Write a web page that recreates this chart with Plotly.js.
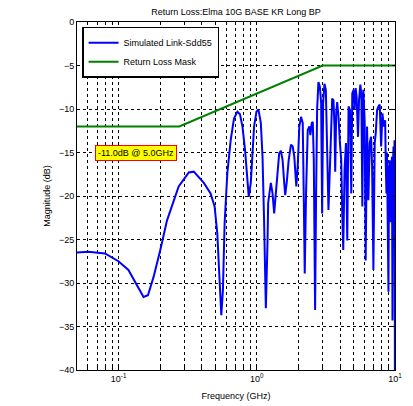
<!DOCTYPE html>
<html>
<head>
<meta charset="utf-8">
<script src="https://cdn.plot.ly/plotly-3.0.1.min.js"></script>
<style>html,body{margin:0;padding:0;background:#fff;}#chart{width:413px;height:406px;}</style>
</head>
<body>
<div id="chart"></div>
<script>
// Simulated link Sdd55 (frequency in GHz, magnitude in dB)
const simFreq = [0.050,0.0603,0.0797,0.0997,0.1178,0.1357,0.1515,0.1631,0.1791,0.2003,0.2241,0.2721,0.3219,0.3499,0.4137,
  0.4629,0.4950,0.5177,0.5318,0.5471,0.5536,0.5686,0.5851,0.6118,0.6470,0.6838,0.7238,0.7556,0.7870,0.8221,0.8557,0.8746,0.9045,0.9305,0.9558,0.9950,1.0289,1.0693,1.1002,1.1301,1.1627,1.1963,1.2084,
  1.2637,1.3001,1.3354,1.3741,1.4137,1.4522,1.4942,1.5375,1.5792,1.6059,1.6524,1.7001,1.7668,1.8183,1.8680,1.9314,1.9770,2.0313,2.0893,2.1497,2.1857,2.2228,2.2719,2.3372,2.4012,2.4414,2.4994,2.5418,2.5850,2.6416,2.6863,2.7319,2.7918,2.8576,2.9208,2.9700,
  3.0200,3.0866,3.1594,3.2292,3.3000,3.3954,3.5116,3.5885,3.6493,3.6924,3.7544,3.8180,3.9024,3.9952,4.0829,4.1520,4.2224,4.3149,4.4173,4.5140,4.6132,4.7226,4.8261,4.9079,5.0165,5.1008,5.1873,5.2753,5.4006,5.4910,5.6121,5.7073,5.8034,5.9016,6.0319,6.1330,6.2786,6.4172,6.5580,6.7139,6.8277,6.9773,7.1312,7.2522,7.4234,7.5858,7.7536,7.9362,8.1113,8.2894,8.4862,
  8.58,8.6736,8.75,8.8199,8.9,8.9689,9.05,9.1668,9.25,9.3847,9.5,9.5903,9.68,9.7529,9.83,9.9169,9.96,9.99];
const simDb = [-26.5,-26.4,-26.6,-27.5,-28.5,-30.2,-31.6,-31.4,-29.3,-26.2,-22.8,-18.9,-17.3,-17.2,-18.5,
  -19.7,-21.2,-24.3,-27.7,-31.6,-33.7,-30.8,-23.1,-17.4,-13.6,-11.1,-10.3,-10.6,-12.0,-14.7,-18.2,-20.1,-18.5,-15.5,-12.0,-10.3,-10.1,-11.6,-15.5,-23.1,-32.9,-25.1,-20.8,
  -18.5,-19.7,-22.0,-19.7,-16.6,-15.1,-14.8,-15.9,-18.5,-19.9,-18.2,-15.9,-14.1,-14.3,-15.5,-18.9,-16.6,-12.0,-10.9,-11.6,-19.7,-28.9,-19.7,-12.4,-12.0,-13.0,-11.6,-11.5,-15.9,-33.1,-19.7,-10.1,-6.9,-7.4,-9.3,-22.0,
  -9.3,-7.1,-7.8,-15.9,-21.6,-15.9,-8.8,-9.0,-12.0,-17.2,-10.5,-9.2,-10.9,-13.9,-15.9,-22.0,-26.2,-17.0,-13.9,-25.1,-9.7,-10.1,-19.7,-8.2,-7.8,-10.1,-7.6,-8.6,-13.2,-9.0,-7.2,-8.2,-21.2,-7.8,-11.3,-27.4,-12.0,-20.5,-13.9,-13.2,-16.6,-28.5,-13.9,-12.8,-10.1,-9.7,-9.5,-14.3,-10.5,-12.0,-11.3,
  -16.5,-19.7,-15.0,-18.9,-24.0,-31.0,-17.0,-15.9,-23.0,-20.5,-15.5,-34.3,-16.0,-14.3,-22.0,-13.6,-25.0,-45];

// Return loss mask
const maskFreq = [0.05, 0.275, 3.0, 10.0];
const maskDb = [-12, -12, -5, -5];

// Axis ticks
const xTickVals = [0.05,0.06,0.07,0.08,0.09,0.1,0.2,0.3,0.4,0.5,0.6,0.7,0.8,0.9,1,2,3,4,5,6,7,8,9,10];
const xTickText = ['','','','','','10<sup>-1</sup>','','','','','','','','','10<sup>0</sup>','','','','','','','','','10<sup>1</sup>'];
const yTickVals = [-40,-35,-30,-25,-20,-15,-10,-5,0];

const annotText = '-11.0dB @ 5.0GHz';
const annotFreq = 0.067;
const annotDb = -15;

const font = {family: 'Liberation Sans, Arial, sans-serif', size: 9, color: '#000'};

const traces = [
  {x: simFreq, y: simDb, type: 'scatter', mode: 'lines', name: 'Simulated Link-Sdd55',
   line: {color: '#0000ff', width: 2}},
  {x: maskFreq, y: maskDb, type: 'scatter', mode: 'lines', name: 'Return Loss Mask',
   line: {color: '#008000', width: 2}}
];

const layout = {
  width: 413, height: 406,
  margin: {l: 77, r: 18, t: 22, b: 36},
  paper_bgcolor: '#fff', plot_bgcolor: '#fff',
  font: font,
  showlegend: true,
  title: {text: 'Return Loss:Elma 10G BASE KR Long BP', font: {family: font.family, size: 9, color: '#000'},
          x: 0.5, xref: 'paper', y: 1 - 12/406, yref: 'container', yanchor: 'middle'},
  xaxis: {type: 'log', range: [Math.log10(0.05), 1], tickvals: xTickVals, ticktext: xTickText,
          tickangle: 0,
          showgrid: true, gridcolor: '#000', griddash: 'dot', gridwidth: 1,
          showline: true, linecolor: '#000', linewidth: 1, mirror: 'ticks',
          ticks: 'inside', ticklen: 3, tickcolor: '#000', zeroline: false,
          tickfont: font,
          title: {text: 'Frequency (GHz)', font: font, standoff: 9}},
  yaxis: {range: [-40, 0], tickvals: yTickVals,
          showgrid: true, gridcolor: '#000', griddash: 'dot', gridwidth: 1,
          showline: true, linecolor: '#000', linewidth: 1, mirror: 'ticks',
          ticks: 'inside', ticklen: 3, tickcolor: '#000', zeroline: false,
          tickfont: font,
          title: {text: 'Magnitude (dB)', font: font, standoff: 6}},
  legend: {x: 0.016, y: 0.986, xanchor: 'left', yanchor: 'top', bgcolor: '#fff',
           bordercolor: '#000', borderwidth: 1.5, font: font, tracegroupgap: 0},
  annotations: [{x: Math.log10(annotFreq), y: annotDb, xref: 'x', yref: 'y', text: annotText,
                 showarrow: false, xanchor: 'left', yanchor: 'middle',
                 bgcolor: '#ffff00', bordercolor: '#ff0000', borderwidth: 1, borderpad: 2,
                 font: font}]
};

Plotly.newPlot('chart', traces, layout, {staticPlot: true, displayModeBar: false});
</script>
</body>
</html>
